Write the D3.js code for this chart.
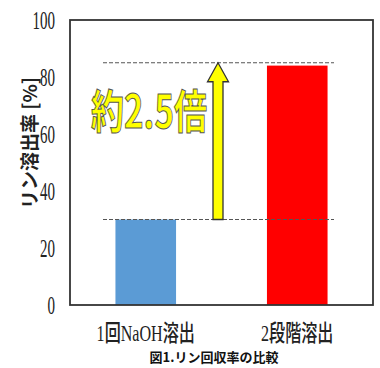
<!DOCTYPE html>
<html><head><meta charset="utf-8">
<script src="https://cdn.jsdelivr.net/npm/d3@7"></script>
<style>body{margin:0;background:#fff}svg{display:block}</style>
</head><body>
<svg id="c" width="380" height="368"></svg>
<script>
const categories = ["1回NaOH溶出", "2段階溶出"];
const values = [30, 84];
const barColors = ["#5b9bd5", "#ff0000"];
const yTicks = [0, 20, 40, 60, 80, 100];
const refLines = [30, 85];
const arrowFrom = 30, arrowTo = 85;
const annotation = "約2.5倍";
const yTitle = "リン溶出率 [%]";
const caption = "図1.リン回収率の比較";

const svg = d3.select("#c");
const L = 70, R = 373, T = 20, B = 305;
const x = d3.scaleBand().domain(categories).range([L, R]).paddingInner(0.6).paddingOuter(0.3);
const y = d3.scaleLinear().domain([0, 100]).range([B, T]);

// bars
svg.selectAll("rect.bar").data(values).join("rect")
  .attr("x", (d, i) => x(categories[i]))
  .attr("y", d => y(d))
  .attr("width", x.bandwidth())
  .attr("height", d => y(0) - y(d))
  .attr("fill", (d, i) => barColors[i]);

// dashed reference lines
svg.selectAll("line.ref").data(refLines).join("line")
  .attr("x1", 103).attr("x2", 334)
  .attr("y1", d => y(d)).attr("y2", d => y(d))
  .attr("stroke", "#555").attr("stroke-width", 1).attr("stroke-dasharray", "4,2");

// frame
svg.append("rect").attr("x", L).attr("y", T).attr("width", R - L).attr("height", B - T)
  .attr("fill", "none").attr("stroke", "#333").attr("stroke-width", 1.8);

// y axis labels
const yAxis = d3.axisLeft(y).tickValues(yTicks).tickSize(0).tickPadding(0);
const ga = svg.append("g").attr("transform", `translate(55,0)`).call(yAxis);
ga.select(".domain").remove();
ga.selectAll(".tick text").attr("font-family", "Liberation Serif").attr("font-size", 25)
  .attr("fill", "#222").attr("text-anchor", "end")
  .attr("transform", "scale(0.6,1)").attr("x", 0).attr("dy", "0.33em");

// x labels
svg.selectAll("text.xl").data(categories).join("text")
  .attr("transform", d => `translate(${x(d) + x.bandwidth() / 2},341) scale(0.7,1)`)
  .attr("text-anchor", "middle")
  .attr("font-family", "Liberation Serif, Noto Sans CJK JP").attr("font-size", 23)
  .attr("font-weight", 500)
  .attr("fill", "#222")
  .text(d => d);

// y title
svg.append("text").attr("transform", "translate(37,143) rotate(-90)")
  .attr("text-anchor", "middle").attr("font-family", "Noto Sans CJK JP")
  .attr("font-weight", "bold").attr("font-size", 19).attr("fill", "#222")
  .text(yTitle);

// caption
svg.append("text").attr("x", 214).attr("y", 362).attr("text-anchor", "middle")
  .attr("font-family", "Noto Sans CJK JP").attr("font-weight", "bold")
  .attr("font-size", 13).attr("fill", "#111").text(caption);

// arrow
const ax = 218, sw = 5, hw = 10.5, hh = 19;
const yb = y(arrowFrom), yt = y(arrowTo);
const pts = [[ax - sw, yb], [ax - sw, yt + hh], [ax - hw, yt + hh], [ax, yt],
  [ax + hw, yt + hh], [ax + sw, yt + hh], [ax + sw, yb]];
svg.append("path").attr("d", d3.line()(pts) + "Z")
  .attr("fill", "#ffff00").attr("stroke", "#333").attr("stroke-width", 1.3);

// annotation
svg.append("text").attr("transform", "translate(149,128) scale(0.72,1)")
  .attr("text-anchor", "middle").attr("font-family", "Noto Sans CJK JP")
  .attr("font-weight", "bold").attr("font-size", 46)
  .attr("fill", "#ffff00").attr("stroke", "#555").attr("stroke-width", 1)
  .text(annotation);
</script>
</body></html>
